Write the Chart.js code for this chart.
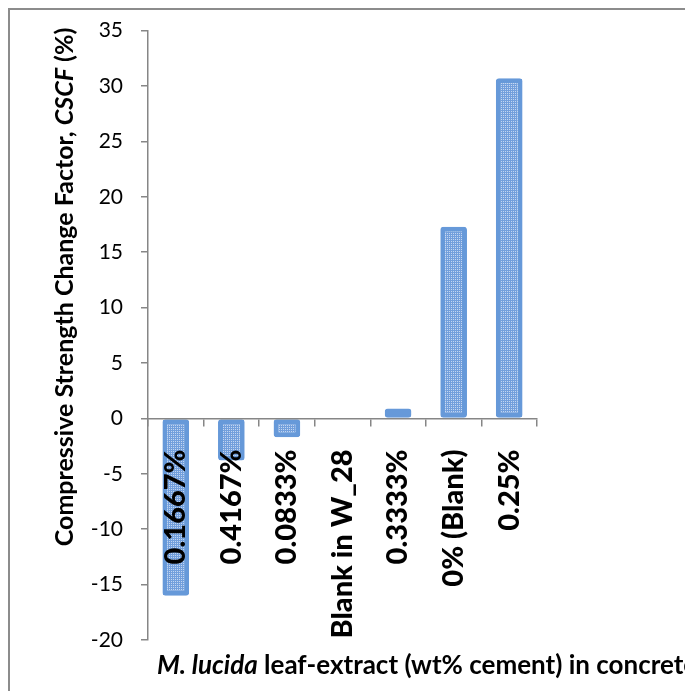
<!DOCTYPE html>
<html>
<head>
<meta charset="utf-8">
<script src="https://cdn.jsdelivr.net/npm/chart.js@4.4.1/dist/chart.umd.min.js"></script>
<style>
  html, body { margin: 0; padding: 0; background: #fff; }
</style>
</head>
<body>
<canvas id="theChart" width="685" height="691"></canvas>
<script>
const categories = ['0.1667%', '0.4167%', '0.0833%', 'Blank in W_28', '0.3333%', '0% (Blank)', '0.25%'];
const cscfValues = [-16.0, -3.8, -1.7, 0, 0.9, 17.3, 30.7];
const yMin = -20;
const yMax = 35;
const yStep = 5;

const yTitleParts = [
  { text: 'Compressive Strength Change Factor, ', italic: false },
  { text: 'CSCF', italic: true },
  { text: ' (%)', italic: false }
];
const xTitleParts = [
  { text: 'M. lucida', italic: true },
  { text: ' leaf-extract (wt% cement) in concrete', italic: false }
];

// dotted fill like the office "small grid" pattern
function makePattern() {
  const c = document.createElement('canvas');
  c.width = 4; c.height = 4;
  const g = c.getContext('2d');
  g.fillStyle = '#729fdc';
  g.fillRect(0, 0, 4, 4);
  g.fillStyle = '#c3d6f1';
  g.fillRect(1, 1, 1, 1);
  g.fillRect(3, 1, 1, 1);
  g.fillRect(1, 3, 1, 1);
  g.fillRect(3, 3, 1, 1);
  return g.createPattern(c, 'repeat');
}

function drawParts(ctx, parts, size) {
  let x = 0;
  for (const p of parts) {
    ctx.font = (p.italic ? 'italic ' : '') + 'bold ' + size + 'px Lato';
    ctx.fillText(p.text, x, 0);
    x += ctx.measureText(p.text).width;
  }
  return x;
}
function partsWidth(ctx, parts, size) {
  let w = 0;
  for (const p of parts) {
    ctx.font = (p.italic ? 'italic ' : '') + 'bold ' + size + 'px Lato';
    w += ctx.measureText(p.text).width;
  }
  return w;
}

const framePlugin = {
  id: 'frame',
  beforeDraw(chart) {
    const ctx = chart.ctx;
    ctx.save();
    ctx.strokeStyle = '#8c8c8c';
    ctx.lineWidth = 2;
    ctx.strokeRect(9, 9, 800, 800);
    ctx.restore();
  },
  afterDraw(chart) {
    const ctx = chart.ctx;
    ctx.save();
    ctx.fillStyle = '#000';
    ctx.textBaseline = 'middle';
    // y title, rotated
    const yw = partsWidth(ctx, yTitleParts, 25);
    ctx.translate(65, 287);
    ctx.rotate(-Math.PI / 2);
    ctx.translate(-yw / 2, 0);
    drawParts(ctx, yTitleParts, 25);
    ctx.restore();

    ctx.save();
    ctx.fillStyle = '#000';
    ctx.textBaseline = 'alphabetic';
    ctx.translate(157, 674);
    drawParts(ctx, xTitleParts, 26);
    ctx.restore();
  }
};

const data1 = {
  labels: categories,
  datasets: [{
    data: cscfValues,
    backgroundColor: makePattern(),
    borderColor: '#6699d9',
    borderWidth: 5,
    borderRadius: 3,
    borderSkipped: false,
    barPercentage: 0.48,
    categoryPercentage: 1.0
  }]
};

const cfg1 = {
  type: 'bar',
  data: data1,
  plugins: [framePlugin],
  options: {
    responsive: false,
    animation: false,
    devicePixelRatio: 1,
    layout: { padding: { left: 0, top: 28, right: 148, bottom: 51 } },
    scales: {
      x: {
        position: { y: 0 },
        // axis line, ticks and labels sit on top of the bars
        grid: { z: 1, offset: true, drawOnChartArea: false, tickLength: 7, color: '#868686', lineWidth: 1.5 },
        border: { z: 1, color: '#868686', width: 1.5 },
        ticks: {
          z: 1,
          autoSkip: false,
          minRotation: 90, maxRotation: 90, padding: 24,
          color: '#000',
          font: { family: 'Lato', weight: 900, size: 29 }
        }
      },
      y: {
        min: yMin,
        max: yMax,
        afterFit(scale) { scale.width = 148; },
        grid: { drawOnChartArea: false, tickLength: 7, color: '#868686', lineWidth: 1.5 },
        border: { color: '#868686', width: 1.5 },
        ticks: {
          stepSize: yStep, padding: 18,
          color: '#000',
          font: { family: 'Lato', size: 21 }
        }
      }
    },
    plugins: {
      legend: { display: false },
      tooltip: { enabled: false },
      title: { display: false }
    }
  }
};

const myChart = new Chart(document.getElementById('theChart').getContext('2d'), cfg1);
</script>
</body>
</html>
